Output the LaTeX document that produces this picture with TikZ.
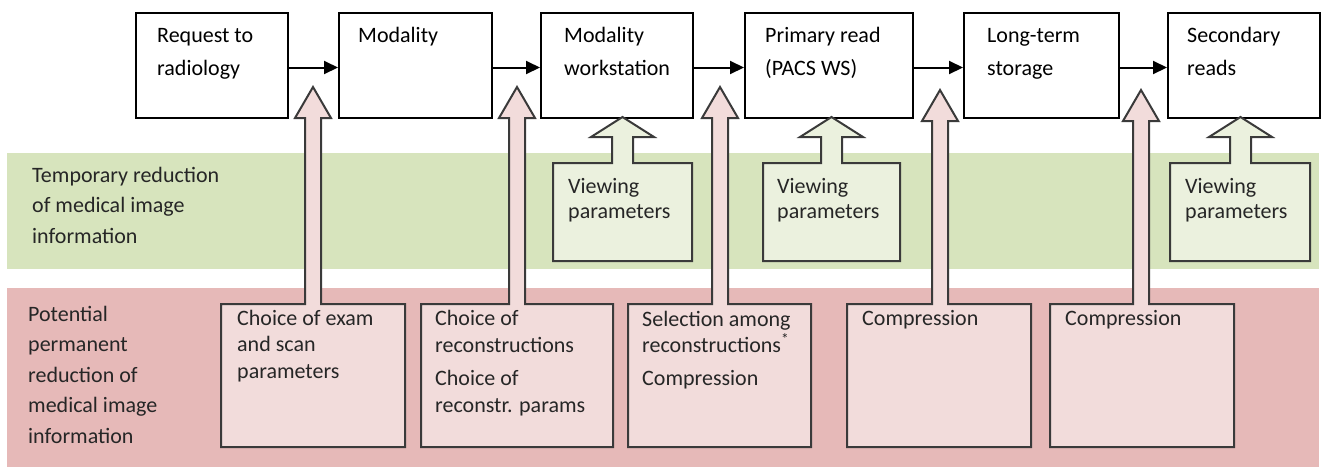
\documentclass[tikz,border=0pt]{standalone}
\usepackage{fontspec}
\setmainfont{Carlito}
\usetikzlibrary{arrows.meta,calc}
\definecolor{bandgreen}{HTML}{D7E4BD}
\definecolor{boxgreen}{HTML}{EBF1DE}
\definecolor{bandred}{HTML}{E6B9B8}
\definecolor{boxred}{HTML}{F2DCDB}
\definecolor{edgegray}{HTML}{3A3A3A}
\definecolor{txt}{HTML}{262626}
\begin{document}
\begin{tikzpicture}[x=1pt,y=-1pt,
  topbox/.style={draw=black,line width=2pt,fill=white,minimum height=105pt,anchor=north west,inner sep=0pt},
  conn/.style={line width=2pt,draw=black,-{Triangle[length=14pt,width=13pt]}},
  greenunit/.style={draw=edgegray,line width=2pt,fill=boxgreen,line join=miter},
  pinkunit/.style={draw=edgegray,line width=2pt,fill=boxred,line join=miter},
  lbl/.style={anchor=base west,align=left,inner sep=0pt,text=txt},
  toptxt/.style={lbl,text=black,font=\fontsize{22}{33}\selectfont},
  bandtxt/.style={lbl,font=\fontsize{22}{30.5}\selectfont},
  boxtxt/.style={lbl,font=\fontsize{22}{26.5}\selectfont}
]
\useasboundingbox (0,0) rectangle (1322,467);
% bands
\fill[bandgreen] (7,153) rectangle (1319,269);
\fill[bandred] (7,288) rectangle (1319,467);

% top process boxes
\node[topbox,minimum width=152pt] (b1) at (135,12) {};
\node[topbox,minimum width=153pt] (b2) at (338,12) {};
\node[topbox,minimum width=152pt] (b3) at (540,12) {};
\node[topbox,minimum width=168pt] (b4) at (744,12) {};
\node[topbox,minimum width=155pt] (b5) at (963,12) {};
\node[topbox,minimum width=152pt] (b6) at (1167,12) {};

\draw[conn] ([yshift=-2pt]b1.east) -- ([yshift=-2pt]b2.west);
\draw[conn] ([yshift=-2pt]b2.east) -- ([yshift=-2pt]b3.west);
\draw[conn] ([yshift=-2pt]b3.east) -- ([yshift=-2pt]b4.west);
\draw[conn] ([yshift=-2pt]b4.east) -- ([yshift=-2pt]b5.west);
\draw[conn] ([yshift=-2pt]b5.east) -- ([yshift=-2pt]b6.west);

% (base anchor of a multi-line node = baseline of its last line)
\node[toptxt] (t1) at (157,75) {Request to\\radiology};
\node[toptxt] (t2) at (358,42) {Modality};
\node[toptxt] (t3) at (564,75) {Modality\\workstation};
\node[toptxt] (t4) at (765,75) {Primary read\\(PACS WS)};
\node[toptxt] (t5) at (987,75) {Long-term\\storage};
\node[toptxt] (t6) at (1187,75) {Secondary\\reads};

% band labels
\node[bandtxt] (lg) at (32,243) {Temporary reduction\\of medical image\\information};
\node[bandtxt] (lr) at (28,443) {Potential\\permanent\\reduction of\\medical image\\information};

% green viewing-parameter boxes with block arrows
\draw[greenunit] (553,261) -- (553,163) -- (612,163) -- (612,137) -- (591,137) -- (622.5,117)
  -- (654,137) -- (633,137) -- (633,163) -- (692,163) -- (692,261) -- cycle;
\draw[greenunit] (763,261) -- (763,163) -- (821,163) -- (821,137) -- (800,137) -- (831.5,117)
  -- (863,137) -- (842,137) -- (842,163) -- (900,163) -- (900,261) -- cycle;
\draw[greenunit] (1170,261) -- (1170,163) -- (1230,163) -- (1230,137) -- (1209,137) -- (1240.5,117)
  -- (1272,137) -- (1251,137) -- (1251,163) -- (1310,163) -- (1310,261) -- cycle;

\node[boxtxt,font=\fontsize{22}{25}\selectfont] (v1) at (568,218) {Viewing\\parameters};
\node[boxtxt,font=\fontsize{22}{25}\selectfont] (v2) at (777,218) {Viewing\\parameters};
\node[boxtxt,font=\fontsize{22}{25}\selectfont] (v3) at (1185,218) {Viewing\\parameters};

% pink boxes with block arrows
\draw[pinkunit] (221,447) -- (221,304) -- (305,304) -- (305,118) -- (295,118) -- (313,87)
  -- (331,118) -- (321,118) -- (321,304) -- (405,304) -- (405,447) -- cycle;
\draw[pinkunit] (421,447) -- (421,304) -- (509,304) -- (509,118) -- (499,118) -- (517,87)
  -- (535,118) -- (525,118) -- (525,304) -- (613,304) -- (613,447) -- cycle;
\draw[pinkunit] (628,447) -- (628,304) -- (712,304) -- (712,118) -- (702,118) -- (720,87)
  -- (738,118) -- (728,118) -- (728,304) -- (811,304) -- (811,447) -- cycle;
\draw[pinkunit] (847,447) -- (847,304) -- (932,304) -- (932,121) -- (922,121) -- (940,90)
  -- (958,121) -- (948,121) -- (948,304) -- (1031,304) -- (1031,447) -- cycle;
\draw[pinkunit] (1050,447) -- (1050,304) -- (1133,304) -- (1133,121) -- (1123,121) -- (1141,90)
  -- (1159,121) -- (1149,121) -- (1149,304) -- (1234,304) -- (1234,447) -- cycle;

\node[boxtxt] (pa) at (237,378) {Choice of exam\\and scan\\parameters};
\node[boxtxt] (pb) at (435,412) {Choice of\\reconstructions\\[7pt]Choice of\\reconstr. params};
\node[boxtxt] (pc) at (642,385) {Selection among\\reconstructions\textsuperscript{*}\\[6pt]Compression};
\node[boxtxt] (pd) at (862,325) {Compression};
\node[boxtxt] (pe) at (1065,325) {Compression};
\end{tikzpicture}
\end{document}
